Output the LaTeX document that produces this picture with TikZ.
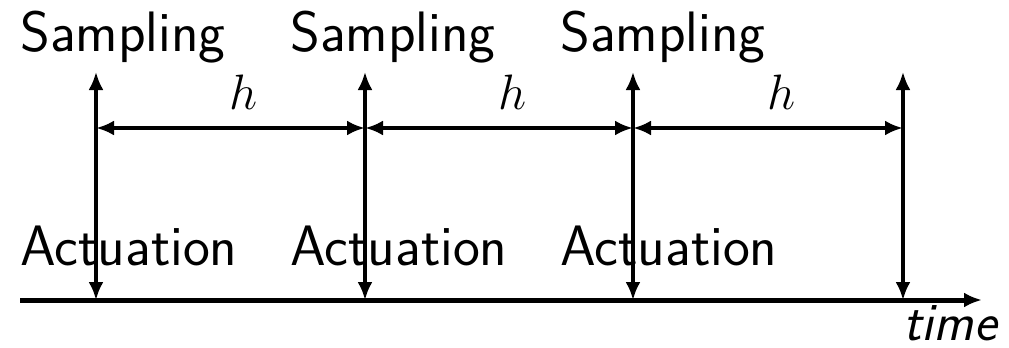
\documentclass[tikz,border=0pt]{standalone}
\usepackage{tikz}
\usetikzlibrary{arrows.meta,positioning,calc}
\tikzset{
  >={Latex[length=9pt,width=7.5pt]},
  lbl/.style  = {font=\fontsize{28.5}{32}\selectfont\sffamily, inner sep=0pt},
  hlbl/.style = {font=\fontsize{26}{30}\selectfont, inner sep=0pt},
  % --- edges
  tick/.style = {<->, line width=1.6pt},
  span/.style = {<->, line width=2pt},
  axis/.style = {->, line width=2.5pt},
}
\begin{document}
\begin{tikzpicture}[x=0.5pt,y=-0.5pt]
  \useasboundingbox (0,0) rectangle (1009,348);
  % sampling / actuation instants
  \foreach \i/\x in {1/96,2/365,3/633,4/903} {
    \coordinate (top\i) at (\x,72);
    \coordinate (bot\i) at (\x,300);
    \coordinate (mid\i) at (\x,128);
    \draw[tick] (top\i) -- (bot\i);
  }
  \foreach \i/\x in {1/20,2/290,3/560} {
    \node[lbl, anchor=base west] (samp\i) at (\x,52) {Sampling};
    \node[lbl, anchor=base west] (act\i) at (\x,265) {Actuation};
  }
  % periods
  \foreach \i/\j in {1/2,2/3,3/4} {
    \draw[span] (mid\i) -- (mid\j);
    \node[hlbl] (h\i) at ($(mid\i)!0.55!(mid\j)+(0,-36)$) {$h$};
  }
  % time axis
  \coordinate (t0) at (20,300);
  \coordinate (t1) at (982,300);
  \draw[axis] (t0) -- (t1);
  \node[lbl, anchor=base east] (time) at (997,340) {\fontsize{27}{30}\selectfont\itshape time};
\end{tikzpicture}
\end{document}
